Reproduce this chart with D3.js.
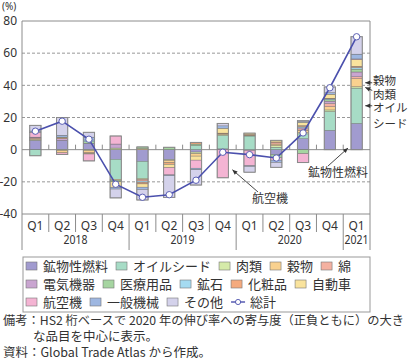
<!DOCTYPE html>
<html><head><meta charset="utf-8">
<script src="https://cdn.jsdelivr.net/npm/d3@7"></script>
<style>
body{margin:0;background:#fff}
svg{display:block}
text{font-family:"Noto Sans CJK JP","Noto Sans",sans-serif;fill:#333}
text.lat{font-family:"Noto Sans","Liberation Sans",sans-serif}
</style>
</head><body>
<svg id="c" width="408" height="360"></svg>
<script>
// ---- data ----
const quarters = ["Q1","Q2","Q3","Q4","Q1","Q2","Q3","Q4","Q1","Q2","Q3","Q4","Q1"];
const yearLabels = ["2018","2019","2020","2021"];
const yearCounts = [4,4,4,1];
const yTicks = [80,60,40,20,0,-20,-40];

const seriesNames = ["鉱物性燃料","オイルシード","肉類","穀物","綿","電気機器","医療用品","鉱石","化粧品","自動車","航空機","一般機械","その他"];
const seriesColors = ["#a19bcf","#a7dcc6","#d5eaa9","#f9d18f","#f4b1a1","#c9a5d0","#a6d5a1","#a5dbf1","#f4aa7e","#f9e39d","#f4b4d3","#9eb7e1","#d4d2eb"];

const fuel     = [5.8, 5.8, 4.0, -6.0, -7.3, -6.2, -1.5, 0.5, -0.5, -3.0, 6.8, 12.0, 16.3];
const oilseed  = [-3.8, 0, 0, -12.5, -10.5, 0, 2.5, 8.3, 8.5, 1.5, 3.0, 11.7, 22.0];
const meat     = [0.5, -0.5, -0.5, 1.0, -0.7, -0.5, -1.0, 0.5, 0, 1.0, 0.8, 1.0, 0.8];
const grain    = [0.5, -1.5, -1.2, -0.5, 0.7, -1.5, -1.5, 0.5, 0.5, 1.0, 1.5, 2.0, 5.0];
const cotton   = [0.5, 0, 0, 0, -1.0, 0, 0, 0, 0, 0.8, 0.8, 2.0, 1.2];
const elec     = [0.5, 1.0, 0, 2.5, 0, 0, 0, 0, 0, 0, 0.7, 1.5, 3.0];
const medical  = [0, 0, 1.0, -1.0, 1.0, 1.5, 1.0, 0, 0, -2.0, -2.5, 0.8, 1.8];
const ore      = [0, 0, 1.0, 0, -0.8, 0, 0, 0, 0, 0, 0.7, 0.5, 1.0];
const cosmetic = [0, 0.5, -0.5, 0, -1.0, -1.0, 1.0, 0.5, 0.5, 0.5, 0.7, 0.5, 0.8];
const autos    = [0, 0.5, -0.5, -3.5, -2.0, -2.0, -2.5, 3.0, 0.8, 1.0, 2.0, 2.5, 4.2];
const aircraft = [3.0, -1.0, -4.3, 5.0, 0, -4.5, -5.0, -17.5, -9.5, -1.5, -5.5, 0, 0.3];
const machine  = [0.8, 1.2, 1.8, -1.0, -1.5, -0.5, -1.0, 1.5, -0.5, -1.5, 0.5, 1.0, 3.0];
const other    = [3.5, 11.0, 3.0, -5.5, -6.5, -13.5, -9.5, 1.5, -3.5, -3.0, 0.5, 3.5, 10.8];
const total    = [11.5, 17.7, 6.5, -21.5, -29.6, -28.0, -19.0, -1.6, -3.1, -5.2, 10.4, 38.5, 70.2];

const seriesValues = [fuel,oilseed,meat,grain,cotton,elec,medical,ore,cosmetic,autos,aircraft,machine,other];

// ---- layout ----
const svg = d3.select("#c");
const L = 22, R = 370, T = 21, B = 214, BOT = 250;
const x = d3.scaleBand().domain(d3.range(quarters.length)).range([L, R]).paddingInner(0.58).paddingOuter(0.29);
const y = d3.scaleLinear().domain([-40, 80]).range([B, T]);
const step = x.step(), bw = x.bandwidth();
const cx = i => x(i) + bw / 2;

const rows = quarters.map((q, i) => {
  const o = {i};
  seriesNames.forEach((n, k) => o[n] = seriesValues[k][i]);
  return o;
});
const stacked = d3.stack().keys(seriesNames).offset(d3.stackOffsetDiverging)(rows);

// gridlines
const g = svg.append("g");
yTicks.forEach(t => {
  const line = g.append("line").attr("x1", L).attr("x2", R).attr("y1", y(t)).attr("y2", y(t));
  if (t === 80 || t === -40 || t === 0) line.attr("stroke", "#8c8c8c").attr("stroke-width", 1);
  else line.attr("stroke", "#8c8c8c").attr("stroke-width", 0.9).attr("stroke-dasharray", "3,2");
});
// y labels
svg.append("text").attr("class", "lat").attr("x", 2).attr("y", 10).attr("font-size", 10).text("(%)");
yTicks.forEach(t => {
  svg.append("text").attr("class", "lat").attr("x", 17).attr("y", y(t)).attr("dy", "0.36em")
    .attr("text-anchor", "end").attr("font-size", 12).text(t);
});
// frame
g.append("line").attr("x1", L).attr("x2", L).attr("y1", T).attr("y2", BOT).attr("stroke", "#8c8c8c");
g.append("line").attr("x1", R).attr("x2", R).attr("y1", T).attr("y2", BOT).attr("stroke", "#8c8c8c");
// ticks on zero line & separators on x axis
let idx = 0;
const yearStarts = [];
yearCounts.forEach(c => { yearStarts.push(idx); idx += c; });
for (let k = 1; k < quarters.length; k++) {
  const xb = L + step * k;
  g.append("line").attr("x1", xb).attr("x2", xb).attr("y1", y(0) - 5).attr("y2", y(0)).attr("stroke", "#8c8c8c");
  const isYear = yearStarts.includes(k);
  g.append("line").attr("x1", xb).attr("x2", xb).attr("y1", B).attr("y2", isYear ? BOT : 232).attr("stroke", "#8c8c8c");
}
// x labels
quarters.forEach((q, i) => {
  svg.append("text").attr("class", "lat").attr("x", cx(i)).attr("y", 225.5).attr("dy", "0.36em")
    .attr("text-anchor", "middle").attr("font-size", 12).text(q);
});
yearLabels.forEach((yl, k) => {
  const a = L + step * yearStarts[k], b = L + step * (yearStarts[k] + yearCounts[k]);
  svg.append("text").attr("class", "lat").attr("x", (a + b) / 2 - 12).attr("y", 240).attr("dy", "0.36em")
    .attr("font-size", 12).attr("textLength", 24).attr("lengthAdjust", "spacingAndGlyphs").text(yl);
});

// bars
const bars = svg.append("g");
stacked.forEach((s, k) => {
  bars.selectAll(null).data(s).enter().append("rect")
    .attr("x", d => x(d.data.i))
    .attr("width", bw)
    .attr("y", d => y(Math.max(d[0], d[1])))
    .attr("height", d => Math.abs(y(d[0]) - y(d[1])))
    .attr("fill", seriesColors[k])
    .attr("stroke", "#5a5a5a").attr("stroke-width", 0.35);
});
// bar outlines
rows.forEach((r, i) => {
  const pos = d3.sum(seriesValues, v => Math.max(0, v[i]));
  const neg = d3.sum(seriesValues, v => Math.min(0, v[i]));
  bars.append("rect").attr("x", x(i)).attr("width", bw)
    .attr("y", y(pos)).attr("height", y(neg) - y(pos))
    .attr("fill", "none").attr("stroke", "#8a8a8a").attr("stroke-width", 1);
});

// total line
const lineColor = "#4b50ad";
svg.append("path").datum(total)
  .attr("d", d3.line().x((d, i) => cx(i)).y(d => y(d)))
  .attr("fill", "none").attr("stroke", lineColor).attr("stroke-width", 1.6);
svg.selectAll(null).data(total).enter().append("circle")
  .attr("cx", (d, i) => cx(i)).attr("cy", d => y(d)).attr("r", 3.2)
  .attr("fill", "#fff").attr("stroke", lineColor).attr("stroke-width", 0.9);

// annotations
const ann = svg.append("g");
function arrow(x1, y1, x2, y2) {
  ann.append("line").attr("x1", x1).attr("y1", y1).attr("x2", x2).attr("y2", y2)
    .attr("stroke", "#333").attr("stroke-width", 0.9);
  const ang = Math.atan2(y2 - y1, x2 - x1), len = 5, w = 2.2;
  const bx = x2 - len * Math.cos(ang), by = y2 - len * Math.sin(ang);
  const px = -Math.sin(ang) * w, py = Math.cos(ang) * w;
  ann.append("path").attr("d", `M${x2},${y2}L${bx + px},${by + py}L${bx - px},${by - py}Z`).attr("fill", "#333");
}
const last = quarters.length - 1;
const seg = (k) => stacked[k][last];
const rx = x(last) + bw + 3;
const fs = 11.5;
// 穀物
const grainMid = y((seg(3)[0] + seg(3)[1]) / 2);
arrow(rx + 7, grainMid, rx, grainMid);
ann.append("text").attr("x", 373).attr("y", 81).attr("dy", "0.36em").attr("font-size", fs).text("穀物");
// 肉類
const meatMid = y((seg(2)[0] + seg(2)[1]) / 2);
arrow(rx + 7, meatMid + 3, rx, meatMid);
ann.append("text").attr("x", 373).attr("y", 95).attr("dy", "0.36em").attr("font-size", fs).text("肉類");
// オイルシード
const oilMid = y((seg(1)[0] + seg(1)[1]) / 2);
arrow(rx + 7, oilMid, rx, oilMid);
ann.append("text").attr("x", 373).attr("y", 108).attr("dy", "0.36em").attr("font-size", fs).text("オイル");
ann.append("text").attr("x", 373).attr("y", 124).attr("dy", "0.36em").attr("font-size", fs).text("シード");
// 鉱物性燃料
arrow(328, 166, x(last) - 3, y(1));
ann.append("text").attr("x", 368).attr("y", 173).attr("dy", "0.36em").attr("text-anchor", "end").attr("font-size", 12).text("鉱物性燃料");
// 航空機
arrow(258, 192, x(7) + bw + 4, y(-12.5));
ann.append("text").attr("x", 252).attr("y", 199).attr("dy", "0.36em").attr("font-size", 12).text("航空機");

// legend
const lg = svg.append("g");
lg.append("rect").attr("x", 23).attr("y", 257).attr("width", 347).attr("height", 55)
  .attr("fill", "#fff").attr("stroke", "#999").attr("stroke-width", 1);
const legendRows = [[0,1,2,3,4],[5,6,7,8,9],[10,11,12,"total"]];
const rowY = [266, 284, 302];
legendRows.forEach((items, r) => {
  let xx = 26;
  items.forEach(it => {
    if (it === "total") {
      lg.append("line").attr("x1", xx).attr("x2", xx + 14).attr("y1", rowY[r]).attr("y2", rowY[r]).attr("stroke", lineColor).attr("stroke-width", 1.4);
      lg.append("circle").attr("cx", xx + 7).attr("cy", rowY[r]).attr("r", 2.6).attr("fill", "#fff").attr("stroke", lineColor).attr("stroke-width", 0.9);
      const t = lg.append("text").attr("x", xx + 19).attr("y", rowY[r]).attr("dy", "0.36em").attr("font-size", 13).text("総計");
      xx += 19 + t.node().getComputedTextLength() + 8;
    } else {
      lg.append("rect").attr("x", xx).attr("y", rowY[r] - 4).attr("width", 11).attr("height", 8)
        .attr("fill", seriesColors[it]).attr("stroke", "#777").attr("stroke-width", 0.6);
      const t = lg.append("text").attr("x", xx + 17).attr("y", rowY[r]).attr("dy", "0.36em").attr("font-size", 13).text(seriesNames[it]);
      xx += 17 + t.node().getComputedTextLength() + 8;
    }
  });
});

// notes
svg.append("text").attr("x", 3).attr("y", 325).attr("font-size", 12)
  .attr("textLength", 401).attr("lengthAdjust", "spacingAndGlyphs")
  .text("備考：HS2 桁ベースで 2020 年の伸び率への寄与度（正負ともに）の大き");
svg.append("text").attr("x", 33).attr("y", 341).attr("font-size", 12.5).text("な品目を中心に表示。");
svg.append("text").attr("x", 3).attr("y", 357).attr("font-size", 12.5).text("資料：Global Trade Atlas から作成。");
</script>
</body></html>
